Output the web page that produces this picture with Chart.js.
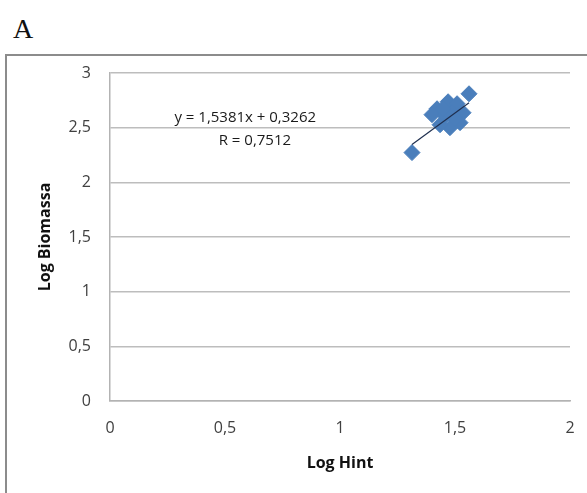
<!DOCTYPE html>
<html>
<head>
<meta charset="utf-8">
<script src="https://cdn.jsdelivr.net/npm/chart.js@4/dist/chart.umd.min.js"></script>
<style>
  html, body { margin: 0; padding: 0; background: #fff; }
  #wrap { position: relative; width: 587px; height: 493px; overflow: hidden; }
  #panel { position: absolute; left: 13px; top: 13px; font-family: "Liberation Serif", serif; font-size: 28px; color: #111; }
  #frame { position: absolute; left: 5px; top: 54px; width: 620px; height: 520px; border: 2px solid #8c8c8c; box-sizing: border-box; }
  #chart { position: absolute; left: 0; top: 0; }
</style>
</head>
<body>
<div id="wrap">
  <div id="panel">A</div>
  <div id="frame"></div>
  <canvas id="chart" width="587" height="493"></canvas>
</div>
<script>
// Log Hint vs Log Biomassa
const logHint = [1.313, 1.422, 1.470, 1.509, 1.535, 1.522, 1.478, 1.435, 1.400, 1.457, 1.487, 1.448, 1.500, 1.561]
const logBiomassa = [2.272, 2.673, 2.737, 2.719, 2.637, 2.546, 2.500, 2.527, 2.619, 2.609, 2.637, 2.673, 2.582, 2.810]

// trend line as printed on the chart
const slope = 1.5381
const intercept = 0.3262
const equationText = "y = 1,5381x + 0,3262"
const rText = "R = 0,7512"

const xTicks = [0, 0.5, 1, 1.5, 2]
const yTicks = [0, 0.5, 1, 1.5, 2, 2.5, 3]

const fmt = (v) => String(v).replace(".", ",")

const points = logHint.map((x, i) => ({ x: x, y: logBiomassa[i] }))
const xMin = Math.min(...logHint)
const xMax = Math.max(...logHint)
const trend = [
  { x: xMin, y: slope * xMin + intercept },
  { x: xMax, y: slope * xMax + intercept },
]

// equation label, drawn in the plot like Excel does
const equationLabel = {
  id: "equationLabel",
  afterDatasetsDraw(chart) {
    const { ctx, scales } = chart
    ctx.save()
    ctx.fillStyle = "#1a1a1a"
    ctx.font = "15px 'Open Sans'"
    ctx.textAlign = "center"
    ctx.textBaseline = "middle"
    ctx.fillText(equationText, scales.x.getPixelForValue(0.588), scales.y.getPixelForValue(2.59))
    ctx.fillText(rText, scales.x.getPixelForValue(0.63), scales.y.getPixelForValue(2.38))
    ctx.restore()
  },
}

Chart.defaults.font.family = "'Open Sans'"
Chart.defaults.color = "#404040"

new Chart(document.getElementById("chart"), {
  type: "scatter",
  data: {
    datasets: [
      {
        label: "Log Biomassa",
        data: points,
        backgroundColor: "#4a7ebb",
        borderColor: "#4a7ebb",
        pointStyle: "rectRot",
        pointRadius: 8,
        pointHoverRadius: 8,
        order: 2,
      },
      {
        type: "line",
        label: "Trend",
        data: trend,
        borderColor: "#1f2f4f",
        borderWidth: 1.2,
        pointRadius: 0,
        fill: false,
        order: 1,
      },
    ],
  },
  options: {
    responsive: false,
    animation: false,
    layout: { padding: { left: 0, right: 17, top: 73, bottom: 0 } },
    plugins: {
      legend: { display: false },
      tooltip: { enabled: false },
    },
    scales: {
      x: {
        type: "linear",
        min: 0,
        max: 2,
        afterFit: (s) => {
          s.height = 92
          s.paddingLeft = 0
          s.paddingRight = 0
        },
        afterBuildTicks: (s) => { s.ticks = xTicks.map((v) => ({ value: v })) },
        grid: { display: false, drawTicks: false },
        border: { display: true, color: "#b3b3b3", width: 1.5 },
        ticks: { padding: 18, font: { size: 16 }, callback: (v) => fmt(v) },
        title: { display: true, text: "Log Hint", font: { size: 16, weight: "bold" }, color: "#111", padding: { bottom: 20 } },
      },
      y: {
        type: "linear",
        min: 0,
        max: 3,
        afterFit: (s) => {
          s.width = 110
          s.paddingTop = 0
          s.paddingBottom = 0
        },
        afterBuildTicks: (s) => { s.ticks = yTicks.map((v) => ({ value: v })) },
        grid: { color: "#bdbdbd", lineWidth: 1.5, drawTicks: false },
        border: { display: true, color: "#b3b3b3", width: 1.5 },
        ticks: { padding: 19, font: { size: 16 }, callback: (v) => fmt(v) },
        title: { display: true, text: "Log Biomassa", font: { size: 16, weight: "bold" }, color: "#111", padding: { top: 36 } },
      },
    },
  },
  plugins: [equationLabel],
})
</script>
</body>
</html>
